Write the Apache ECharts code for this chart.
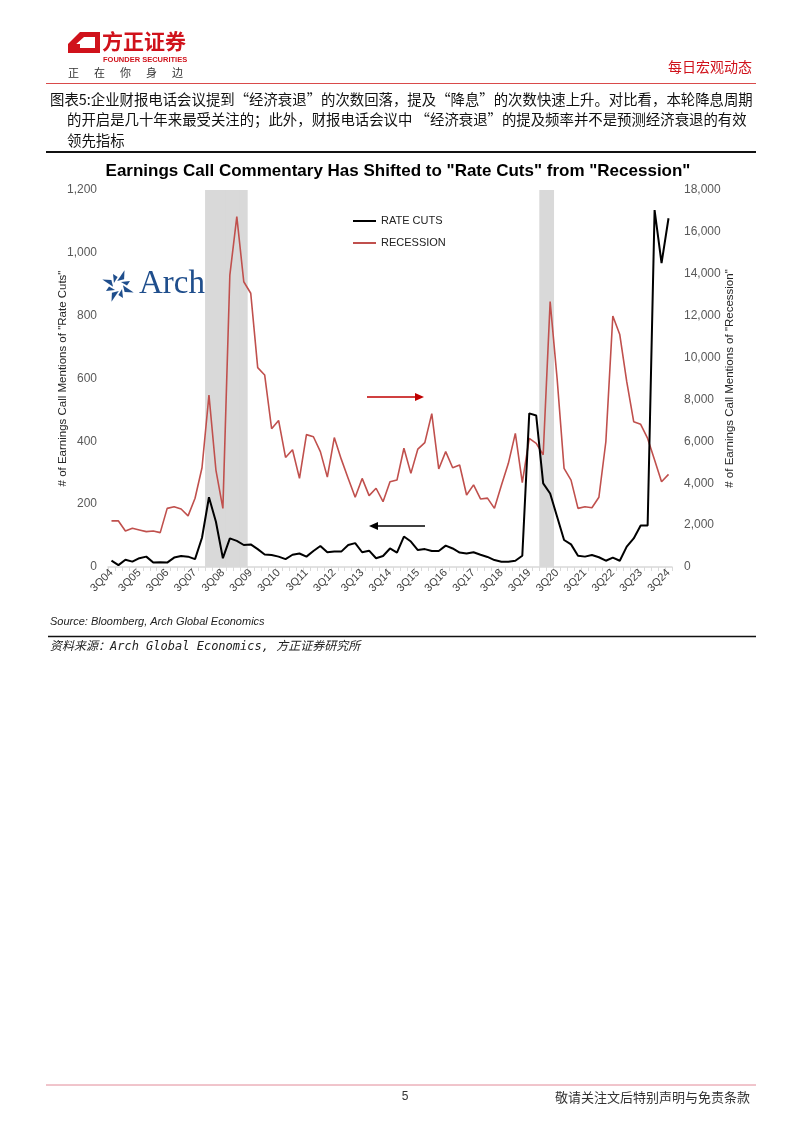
<!DOCTYPE html>
<html>
<head>
<meta charset="utf-8">
<script src="https://cdn.jsdelivr.net/npm/echarts@6/dist/echarts.min.js"></script>
<style>
html,body{margin:0;padding:0;background:#fff;}
#page{width:802px;height:1133px;}
</style>
</head>
<body>
<div id="page"></div>
<script>
// ---------------- data ----------------
const categories = ['3Q04','4Q04','1Q05','2Q05','3Q05','4Q05','1Q06','2Q06','3Q06','4Q06','1Q07','2Q07','3Q07','4Q07',
  '1Q08','2Q08','3Q08','4Q08','1Q09','2Q09','3Q09','4Q09','1Q10','2Q10','3Q10','4Q10','1Q11','2Q11','3Q11','4Q11',
  '1Q12','2Q12','3Q12','4Q12','1Q13','2Q13','3Q13','4Q13','1Q14','2Q14','3Q14','4Q14','1Q15','2Q15','3Q15','4Q15',
  '1Q16','2Q16','3Q16','4Q16','1Q17','2Q17','3Q17','4Q17','1Q18','2Q18','3Q18','4Q18','1Q19','2Q19','3Q19','4Q19',
  '1Q20','2Q20','3Q20','4Q20','1Q21','2Q21','3Q21','4Q21','1Q22','2Q22','3Q22','4Q22','1Q23','2Q23','3Q23','4Q23',
  '1Q24','2Q24','3Q24'];
const rateCuts = [20,6,23,17,28,33,14,15,14,30,35,33,25,93,222,144,28,91,83,70,72,57,40,38,33,25,39,43,33,51,
  67,47,49,49,70,76,47,52,28,35,59,46,97,81,54,57,51,51,68,59,46,43,47,39,32,22,17,17,20,36,
  489,482,266,234,160,86,72,36,33,38,31,20,30,20,65,91,132,132,1136,967,1110];
const recession = [2200,2200,1720,1850,1770,1690,1720,1640,2800,2880,2770,2440,3280,4740,8210,4630,2800,13940,16730,13620,
  13070,9520,9170,6600,7000,5230,5600,4230,6320,6220,5510,4290,6180,5150,4230,3330,4230,3410,3760,3120,
  4070,4150,5670,4470,5630,5940,7320,4680,5510,4740,4870,3440,3920,3250,3290,2800,3900,4950,6380,4030,
  6140,5900,5360,12670,9000,4710,4150,2800,2880,2830,3330,5980,11980,11100,8850,6940,6810,6140,5110,4070,4420];
const recessionQuarters = ['1Q08','2Q08','3Q08','4Q08','1Q09','2Q09','1Q20','2Q20'];
const leftTicks = [0,200,400,600,800,1000,1200];
const rightTicks = [0,2000,4000,6000,8000,10000,12000,14000,16000,18000];
const seriesNames = ['RATE CUTS','RECESSION'];

// ---------------- chart ----------------
const SANS = "'Liberation Sans',Arial,sans-serif";
const CJK = "'Noto Sans CJK SC',sans-serif";
const chart = echarts.init(document.getElementById('page'), null, {renderer:'canvas', width:802, height:1133});

const leftMax = leftTicks[leftTicks.length-1];
const bandData = categories.map(c => recessionQuarters.indexOf(c) >= 0 ? leftMax : '-');
const fmt = v => Number(v).toLocaleString('en-US');

function t(x, y, text, font, fill, align, valign) {
  return {type:'text', silent:true, style:{x:x, y:y, text:text, font:font, fill:fill,
    align:align||'left', textAlign:align||'left', verticalAlign:valign||'middle', textVerticalAlign:valign||'middle'}};
}
function line(x1,y1,x2,y2,color,w){
  return {type:'line', silent:true, shape:{x1:x1,y1:y1,x2:x2,y2:y2}, style:{stroke:color, lineWidth:w}};
}
function poly(points, color){
  return {type:'polygon', silent:true, shape:{points:points}, style:{fill:color}};
}

// Arch star (decorative logo)
const star = [];
const cx = 118, cy = 286;
for (let k = 0; k < 8; k++) {
  const a = k * Math.PI / 4 + Math.PI / 8;
  const r1 = (k % 2 === 0) ? 17 : 13, r0 = 5;
  const tip = [cx + r1*Math.cos(a), cy + r1*Math.sin(a)];
  const b1 = [cx + r0*Math.cos(a-0.55), cy + r0*Math.sin(a-0.55)];
  const b2 = [cx + (r0+4)*Math.cos(a+0.35), cy + (r0+4)*Math.sin(a+0.35)];
  star.push(poly([b1, tip, b2], '#1f4e8c'));
}

const headerChars = ['正','在','你','身','边'];
const headerEls = headerChars.map((c,i) => t(68 + i*26, 73, c, "11px " + CJK, '#333', 'left', 'middle'));

const graphics = [
  // header logo
  poly([[80,32],[100,32],[100,53],[68,53],[68,44]], '#d0121b'),
  poly([[84,37],[95,37],[95,48],[74,48],[74,46]], '#ffffff'),
  poly([[74,44],[80,44],[80,53],[74,53]], '#d0121b'),
  t(102, 41, '方正证券', "bold 21px " + CJK, '#d0121b', 'left', 'middle'),
  t(103, 59.5, 'FOUNDER SECURITIES', "bold 7.5px " + SANS, '#d0121b', 'left', 'middle'),
  ...headerEls,
  t(752, 67, '每日宏观动态', "14px " + CJK, '#d0121b', 'right', 'middle'),
  line(46, 83.5, 756, 83.5, '#d94a4a', 1),
  // caption
  t(50, 100, '图表5:企业财报电话会议提到“经济衰退”的次数回落，提及“降息”的次数快速上升。对比看，本轮降息周期', "14.4px " + CJK, '#111', 'left', 'middle'),
  t(67, 120, '的开启是几十年来最受关注的；此外，财报电话会议中 “经济衰退”的提及频率并不是预测经济衰退的有效', "14.4px " + CJK, '#111', 'left', 'middle'),
  t(67, 141, '领先指标', "14.4px " + CJK, '#111', 'left', 'middle'),
  line(46, 152, 756, 152, '#111', 2),
  // chart title
  t(398, 171, 'Earnings Call Commentary Has Shifted to "Rate Cuts" from "Recession"', "bold 17px " + SANS, '#000', 'center', 'middle'),
  // Arch logo
  ...star,
  t(139, 284, 'Arch', "33px 'Liberation Serif','Times New Roman',serif", '#1f4e8c', 'left', 'middle'),
  // arrows
  line(367, 397, 417, 397, '#c00000', 1.5),
  poly([[415,393],[424,397],[415,401]], '#c00000'),
  line(377, 526, 425, 526, '#000', 1.5),
  poly([[378,522],[369,526],[378,530]], '#000'),
  // source
  t(50, 622, 'Source: Bloomberg, Arch Global Economics', "italic 11px " + SANS, '#222', 'left', 'middle'),
  line(48, 636.5, 756, 636.5, '#111', 1.5),
  t(50, 647, '资料来源：Arch Global Economics, 方正证券研究所', "italic 12px 'DejaVu Sans Mono','Noto Sans CJK SC',monospace", '#222', 'left', 'middle'),
  // footer
  line(46, 1085, 756, 1085, '#e28a98', 1),
  t(405, 1097, '5', "12px " + SANS, '#333', 'center', 'middle'),
  t(750, 1097, '敬请关注文后特别声明与免责条款', "13px " + CJK, '#333', 'right', 'middle')
];

chart.setOption({
  animation: false,
  backgroundColor: '#fff',
  grid: {left:108, right:130, top:190, height:377, containLabel:false},
  legend: {
    data: seriesNames, orient:'vertical', left:353, top:214, padding:0, icon:'rect', itemWidth:23, itemHeight:2,
    itemGap:8, textStyle:{fontFamily:SANS, fontSize:11, color:'#222', lineHeight:14}, selectedMode:false
  },
  xAxis: {
    type:'category', data:categories, boundaryGap:true,
    axisLine:{lineStyle:{color:'#d9d9d9', width:1.5}},
    axisTick:{show:true, interval:0, length:4, lineStyle:{color:'#d9d9d9'}},
    axisLabel:{interval:3, rotate:45, fontFamily:SANS, fontSize:11, color:'#404040', margin:4}
  },
  yAxis: [
    {type:'value', min:leftTicks[0], max:leftMax, interval:leftTicks[1]-leftTicks[0], position:'left',
     axisLine:{show:false}, axisTick:{show:false}, splitLine:{show:false},
     axisLabel:{formatter:fmt, fontFamily:SANS, fontSize:12, color:'#595959', margin:11},
     name:'# of Earnings Call Mentions of "Rate Cuts"', nameLocation:'middle', nameRotate:90, nameGap:39,
     nameMoveOverlap:false,
     nameTextStyle:{fontFamily:SANS, fontSize:11.5, color:'#262626'}},
    {type:'value', min:rightTicks[0], max:rightTicks[rightTicks.length-1], interval:rightTicks[1]-rightTicks[0], position:'right',
     axisLine:{show:false}, axisTick:{show:false}, splitLine:{show:false},
     axisLabel:{formatter:fmt, fontFamily:SANS, fontSize:12, color:'#595959', margin:12},
     name:'# of Earnings Call Mentions of "Recession"', nameLocation:'middle', nameRotate:90, nameGap:52,
     nameMoveOverlap:false,
     nameTextStyle:{fontFamily:SANS, fontSize:11.5, color:'#262626'}}
  ],
  series: [
    {name:'recession band', type:'bar', data:bandData, yAxisIndex:0, barWidth:7.8,
     itemStyle:{color:'#d9d9d9'}, silent:true, z:1},
    {name:seriesNames[1], type:'line', data:recession, yAxisIndex:1, showSymbol:false, symbol:'none',
     lineStyle:{color:'#c0504d', width:1.6}, itemStyle:{color:'#c0504d'}, z:3},
    {name:seriesNames[0], type:'line', data:rateCuts, yAxisIndex:0, showSymbol:false, symbol:'none',
     lineStyle:{color:'#000', width:2}, itemStyle:{color:'#000'}, z:4}
  ],
  graphic: graphics
});
</script>
</body>
</html>
